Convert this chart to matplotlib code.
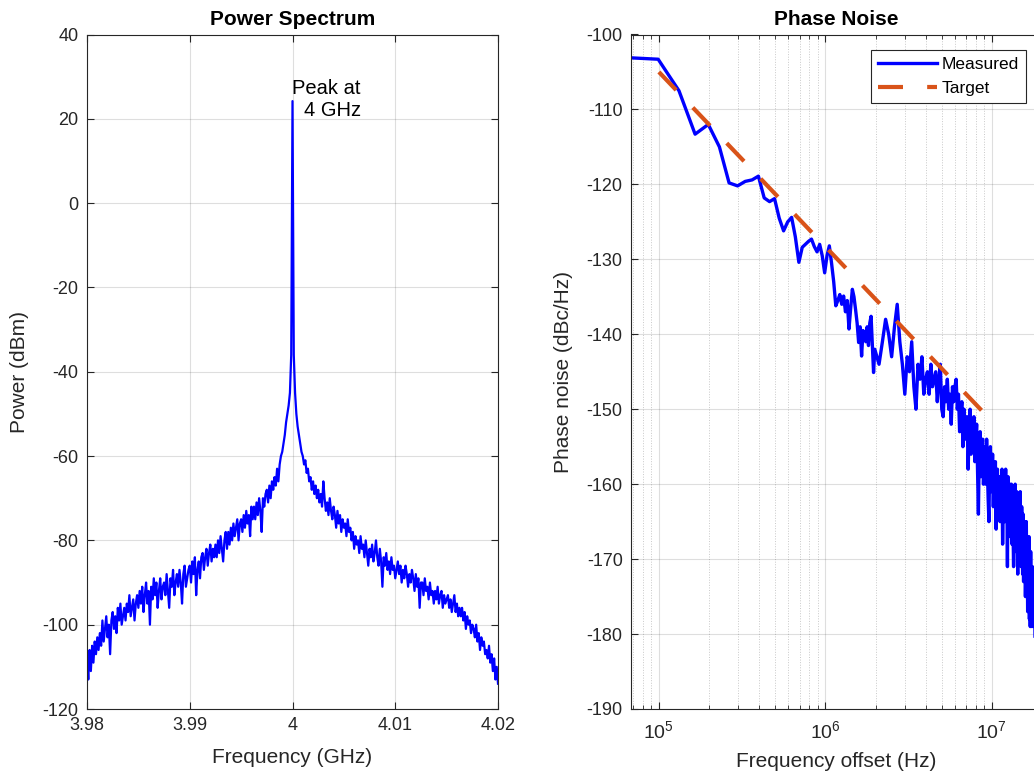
import numpy as np
import matplotlib
matplotlib.use('Agg')
import matplotlib.pyplot as plt
from matplotlib.ticker import FixedLocator, FuncFormatter, LogLocator

plt.rcParams['font.family'] = ['Liberation Sans', 'DejaVu Sans']
plt.rcParams['mathtext.fontset'] = 'custom'
plt.rcParams['mathtext.rm'] = 'Liberation Sans'
plt.rcParams['axes.unicode_minus'] = False

# ---- power spectrum (GHz / dBm), 321 bins from 3.98 to 4.02 ----
spec_freq = np.linspace(3.98, 4.02, 321)
spec_left = [
    -108, -113, -106, -111, -105, -109, -104, -107, -103, -106,
    -102, -105, -99, -104, -101, -98, -103, -100, -107, -99,
    -97, -101, -98, -102, -96, -99, -95, -100, -98, -96,
    -99, -95, -97, -93, -98, -96, -94, -99, -95, -93,
    -96, -92, -95, -91, -97, -93, -90, -95, -92, -100,
    -91, -94, -89, -93, -90, -96, -92, -89, -94, -91,
    -90, -93, -88, -92, -96, -89, -91, -87, -93, -90,
    -88, -91, -87, -90, -95, -88, -86, -91, -89, -87,
    -86, -90, -85, -88, -84, -93, -87, -85, -89, -84,
    -83, -87, -84, -82, -86, -83, -81, -85, -82, -84,
    -81, -84, -80, -83, -79, -82, -85, -80, -78, -82,
    -78, -81, -77, -80, -76, -79, -77, -75, -80, -76,
    -75, -78, -74, -77, -73, -76, -74, -79, -72, -75,
    -72, -75, -71, -74, -70, -73, -78, -70, -72, -69,
    -68, -71, -67, -70, -66, -68, -65, -67, -63, -66,
    -62, -60, -59, -57, -55, -52, -50, -48, -45, -36,
]
spec_peak = [24.2]
spec_right = [
    -36, -45, -50, -53, -55, -57, -59, -60, -62, -61,
    -64, -63, -66, -65, -68, -66, -69, -67, -70, -68,
    -71, -69, -72, -66, -70, -73, -71, -74, -70, -73,
    -75, -72, -74, -77, -73, -76, -74, -78, -75, -77,
    -76, -79, -75, -78, -77, -80, -78, -82, -79, -81,
    -80, -83, -79, -82, -81, -84, -80, -83, -86, -82,
    -84, -81, -85, -83, -80, -84, -86, -82, -85, -91,
    -84, -86, -83, -87, -85, -88, -84, -87, -86, -89,
    -87, -85, -88, -86, -90, -87, -89, -86, -88, -91,
    -88, -90, -87, -89, -92, -88, -91, -89, -96, -90,
    -90, -93, -89, -92, -91, -94, -90, -93, -92, -95,
    -92, -94, -91, -95, -93, -92, -96, -93, -95, -94,
    -93, -96, -94, -97, -95, -93, -97, -95, -98, -96,
    -98, -96, -99, -97, -101, -98, -100, -99, -102, -100,
    -101, -103, -100, -104, -102, -106, -103, -105, -104, -107,
    -106, -108, -105, -109, -107, -111, -108, -113, -110, -114,
]
spec_power = np.array(spec_left + spec_peak + spec_right)
spec_xticks = [3.98, 3.99, 4.0, 4.01, 4.02]

# ---- phase noise (Hz / dBc/Hz) ----
pn_freq_low = 33e3 * np.arange(2, 61)
pn_low = [
    -103.1, -103.3, -107.5, -113.3, -112.0, -115.0, -119.8, -120.2, -119.6, -119.4,
    -118.9, -121.8, -122.3, -121.9, -124.5, -126.2, -125.0, -124.4, -127.0, -130.4,
    -128.4, -128.0, -127.6, -127.3, -128.3, -129.0, -128.0, -129.5, -131.8, -129.5,
    -128.2, -130.5, -133.0, -136.2, -135.5, -134.7, -136.0, -134.9, -137.0, -135.5,
    -139.3, -136.5, -134.0, -135.0, -136.7, -138.5, -141.1, -139.0, -142.9, -139.5,
    -140.0, -141.0, -139.0, -141.5, -138.5, -137.6, -141.5, -145.1, -142.0,
]
pn_freq_high = np.arange(2.1e6, 2.0e7 + 1, 1e5)
pn_high = [
    -144, -141, -138, -140, -143, -139, -136, -141, -144, -148,
    -143, -145, -141, -147, -150, -144, -146, -143, -148, -146,
    -145, -148, -144, -147, -146, -145, -149, -146, -144, -150,
    -151, -147, -149, -146, -150, -148, -152, -147, -149, -147,
    -146, -150, -148, -153, -151, -149, -155, -150, -152, -154,
    -151, -158, -153, -150, -156, -152, -155, -151, -157, -154,
    -152, -158, -164, -155, -153, -159, -156, -154, -160, -157,
    -155, -160, -154, -158, -162, -165, -157, -155, -161, -159,
    -156, -163, -158, -161, -157, -166, -160, -158, -164, -162,
    -159, -165, -161, -163, -158, -168, -162, -160, -165, -163,
    -158, -165, -161, -171, -159, -166, -163, -160, -167, -164,
    -160, -168, -161, -166, -171, -162, -169, -160, -167, -164,
    -161, -168, -172, -163, -162, -170, -165, -161, -169, -171,
    -163, -167, -172, -164, -173, -166, -170, -165, -175, -168,
    -165, -174, -168, -177, -170, -176, -167, -178, -172, -179,
    -169, -177, -172, -179, -171, -178, -174, -176, -173, -179,
    -177, -183, -179, -184, -178, -185, -181, -186, -180, -184,
    -182, -187, -183, -188, -185, -189, -184, -188, -186, -189,
]
pn_freq = np.concatenate([pn_freq_low, pn_freq_high])
pn_meas = np.array(pn_low + pn_high)

target_freq = [1e5, 1e6, 1e7]
target_pn = [-105.0, -128.3, -151.6]

axis_col = '#262626'
orange = '#D95319'

fig = plt.figure(figsize=(10.34, 7.8), dpi=100)
W, H = 1034.0, 780.0
ax1 = fig.add_axes([87 / W, 1 - 709 / H, 411 / W, (709 - 34.5) / H])
ax2 = fig.add_axes([631 / W, 1 - 709 / H, 411 / W, (709 - 34.5) / H])


def style(ax):
    for s in ax.spines.values():
        s.set_color(axis_col)
        s.set_linewidth(0.8)
    ax.tick_params(which='major', direction='in', top=True, right=True,
                   length=5, width=0.8, color=axis_col, labelsize=13,
                   labelcolor=axis_col, pad=6)
    ax.grid(True, which='major', color=axis_col, alpha=0.15, linewidth=0.8)
    ax.set_axisbelow(True)


# left: power spectrum
style(ax1)
ax1.plot(spec_freq, spec_power, color='#0000ff', linewidth=1.6)
ax1.set_xlim(3.98, 4.02)
ax1.set_ylim(-120, 40)
ax1.xaxis.set_major_locator(FixedLocator(spec_xticks))
ax1.xaxis.set_major_formatter(FuncFormatter(lambda v, p: '%g' % round(v, 4)))
ax1.yaxis.set_major_locator(FixedLocator(np.arange(-120, 41, 20)))
ax1.set_title('Power Spectrum', fontsize=15, fontweight='bold', color='black', pad=7)
ax1.set_xlabel('Frequency (GHz)', fontsize=15, color=axis_col, labelpad=10)
ax1.set_ylabel('Power (dBm)', fontsize=15, color=axis_col, labelpad=10)
ax1.text(4.0, 24.5, 'Peak at\n4 GHz', ha='left', va='center', multialignment='right',
         fontsize=14.5, color='black')

# right: phase noise
style(ax2)
ax2.set_xscale('log')
ax2.plot(pn_freq, pn_meas, color='#0000ff', linewidth=2.4, label='Measured')
ax2.plot(target_freq, target_pn, color=orange, linewidth=3,
         linestyle=(0, (6, 5.8)), label='Target')
ax2.set_xlim(6.8e4, 2e7)
ax2.set_ylim(-190, -100)
ax2.yaxis.set_major_locator(FixedLocator(np.arange(-190, -99, 10)))
ax2.xaxis.set_major_locator(LogLocator(base=10, numticks=10))
ax2.xaxis.set_minor_locator(LogLocator(base=10, subs=np.arange(2, 10), numticks=20))
ax2.tick_params(axis='x', which='major', labelsize=14, pad=8)
ax2.tick_params(which='minor', direction='in', top=True, length=3, width=0.6, color=axis_col)
ax2.grid(True, which='minor', axis='x', color=axis_col, alpha=0.25,
         linewidth=0.7, linestyle=':')
ax2.set_title('Phase Noise', fontsize=15, fontweight='bold', color='black', pad=7)
ax2.set_xlabel('Frequency offset (Hz)', fontsize=15, color=axis_col, labelpad=7)
ax2.set_ylabel('Phase noise (dBc/Hz)', fontsize=15, color=axis_col, labelpad=10)
leg = ax2.legend(loc='upper right', bbox_to_anchor=(1026 / W, 1 - 50 / H),
                 bbox_transform=fig.transFigure, borderaxespad=0, fontsize=12.5,
                 handlelength=3.4, handletextpad=0.3, labelspacing=0.5,
                 borderpad=0.4, fancybox=False, framealpha=1)
leg.get_frame().set_edgecolor(axis_col)
leg.get_frame().set_linewidth(0.8)

fig.savefig('out.png', dpi=100)
